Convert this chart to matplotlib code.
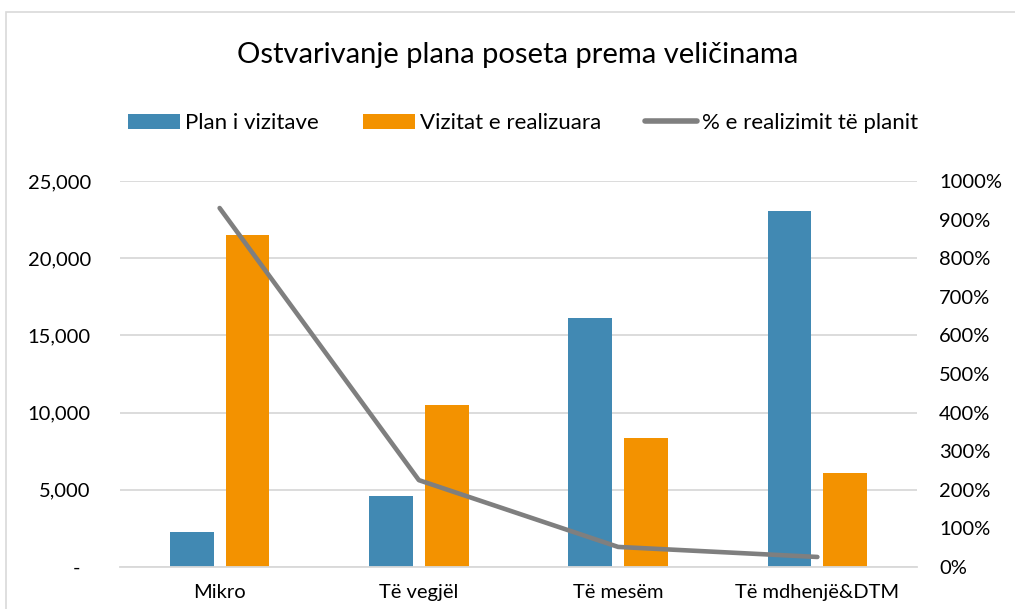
import numpy as np
import matplotlib
matplotlib.use("Agg")
import matplotlib.pyplot as plt
from matplotlib.patches import Rectangle
from matplotlib.ticker import FuncFormatter, PercentFormatter

# Data
categories = ["Mikro", "Të vegjël", "Të mesëm", "Të mdhenjë&DTM"]
plan = [2260, 4590, 16150, 23060]
realized = [21500, 10460, 8330, 6070]
pct_realized = [930, 225, 52, 26]

blue = "#4189b3"
orange = "#f39200"
gray = "#7f7f7f"

plt.rcParams["font.family"] = ["Lato", "DejaVu Sans"]

fig = plt.figure(figsize=(10.15, 6.09), dpi=100)
ax1 = fig.add_axes([120 / 1015, 1 - 567 / 609, (917 - 120) / 1015, (567 - 181) / 609])
ax2 = ax1.twinx()

x = np.arange(len(categories))
w = 0.22
ax1.bar(x - 0.14, plan, w, color=blue, label="Plan i vizitave", zorder=3)
ax1.bar(x + 0.14, realized, w, color=orange, label="Vizitat e realizuara", zorder=3)
ax2.plot(x, pct_realized, color=gray, lw=3.3, solid_capstyle="round",
         solid_joinstyle="round", label="% e realizimit të planit", zorder=4)

ax1.set_xlim(-0.5, len(categories) - 0.5)
ax1.set_ylim(0, 25000)
ax1.set_yticks(range(0, 25001, 5000))
ax1.yaxis.set_major_formatter(FuncFormatter(lambda v, p: f"{v:,.0f}" if v else "-  "))
ax2.set_ylim(0, 1000)
ax2.set_yticks(range(0, 1001, 100))
ax2.yaxis.set_major_formatter(PercentFormatter(decimals=0))

ax1.set_xticks(x)
ax1.set_xticklabels(categories)
ax1.grid(axis="y", color="#d9d9d9", lw=1.3, zorder=0)
ax1.set_axisbelow(True)

for a in (ax1, ax2):
    for s in a.spines.values():
        s.set_visible(False)
    a.tick_params(length=0, labelsize=14.5, colors="black")
ax1.tick_params(axis="y", pad=21)
ax2.tick_params(axis="y", pad=16)
ax1.tick_params(axis="x", pad=12)
ax2.spines["bottom"].set_visible(True)
ax2.spines["bottom"].set_color("#d9d9d9")
ax2.spines["bottom"].set_linewidth(1.3)

fig.text(518 / 1015, 1 - 55 / 609, "Ostvarivanje plana poseta prema veličinama",
         ha="center", va="center", fontsize=21)

h1, l1 = ax1.get_legend_handles_labels()
h2, l2 = ax2.get_legend_handles_labels()
leg = fig.legend(h1 + h2, l1 + l2, loc="center", bbox_to_anchor=(523 / 1015, 1 - 123 / 609),
                 ncol=3, frameon=False, fontsize=16, handlelength=2.35, handleheight=0.65,
                 handletextpad=0.2, columnspacing=2.0)
leg.get_lines()[0].set_linewidth(4)

fig.patches.append(Rectangle((6 / 1015, -0.1), 1.2, 1 - 12 / 609 + 0.1,
                             transform=fig.transFigure, fill=False,
                             edgecolor="#d9d9d9", lw=1.2))

plt.savefig("out.png", dpi=100)
